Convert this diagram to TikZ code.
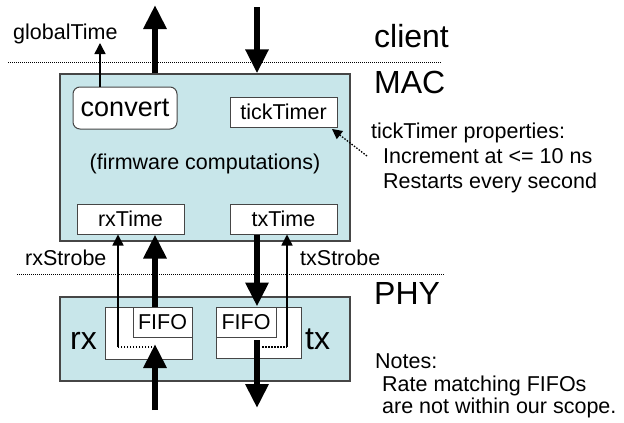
\documentclass[tikz,border=0pt]{standalone}
\usepackage{fontspec}
\setmainfont{Liberation Sans}
\usetikzlibrary{arrows.meta}
\definecolor{panelfill}{RGB}{200,230,234}
\definecolor{edge}{RGB}{70,70,70}
\begin{document}
\begin{tikzpicture}[x=1pt,y=-1pt,
  panel/.style={draw=edge, line width=1.3pt, fill=panelfill, inner sep=0pt},
  wbox/.style={draw=edge, line width=1pt, fill=white, inner sep=0pt, font=\fontsize{21.5}{25}\selectfont},
  bigtext/.style={font=\fontsize{32}{36}\selectfont, inner sep=0pt, anchor=base west},
  smalltext/.style={font=\fontsize{21.5}{25}\selectfont, inner sep=0pt, anchor=base west},
  fat/.style={line width=6pt, -{Triangle[length=24pt,width=22pt]}},
  thinarr/.style={line width=1.5pt, -{Triangle[length=11pt,width=11pt]}},
  sep/.style={line width=0.9pt, dash pattern=on 1pt off 1pt},
  dots/.style={line width=1.3pt, dash pattern=on 1.5pt off 1.5pt}
]
\useasboundingbox (0,0) rectangle (624,423);

% separators
\coordinate (s1a) at (8,62);  \coordinate (s1b) at (441,62);
\coordinate (s2a) at (17,274); \coordinate (s2b) at (444,274);
\draw[sep] (s1a) -- (s1b);
\draw[sep] (s2a) -- (s2b);

% panels
\node[panel, minimum width=290pt, minimum height=167pt] (mac) at (205,157.5) {};
\node[panel, minimum width=290pt, minimum height=84pt] (phy) at (205,339) {};

% MAC inner boxes
\node[wbox, rounded corners=7pt, minimum width=104pt, minimum height=42pt, font=\fontsize{27}{30}\selectfont] (convert) at (125,108) {convert};
\node[wbox, minimum width=107pt, minimum height=30pt] (tick) at (283.5,112) {tickTimer};
\node[wbox, minimum width=107pt, minimum height=30pt] (rxtime) at (130.5,219) {rxTime};
\node[wbox, minimum width=107pt, minimum height=30pt] (txtime) at (283.5,219) {txTime};
\node[font=\fontsize{21.5}{25}\selectfont, inner sep=0pt] (fw) at (205,164) {(firmware computations)};

% PHY inner boxes
\node[wbox, minimum width=87pt, minimum height=52pt] (rxouter) at (148.5,333) {};
\node[wbox, minimum width=59pt, minimum height=30pt] (rxfifo) at (162.5,322) {FIFO};
\node[wbox, minimum width=85pt, minimum height=51pt] (txouter) at (258.5,332.5) {};
\node[wbox, minimum width=60pt, minimum height=30pt] (txfifo) at (246,322) {FIFO};

% texts
\node[smalltext] (gt) at (13,39) {globalTime};
\node[bigtext] (client) at (374,47) {client};
\node[bigtext] (mactxt) at (374,93) {MAC};
\node[bigtext] (phytxt) at (374,304) {PHY};
\node[smalltext] (prop1) at (371,138) {tickTimer properties:};
\node[smalltext] (prop2) at (383,163) {Increment at <= 10 ns};
\node[smalltext] (prop3) at (383,188) {Restarts every second};
\node[smalltext] (rxs) at (25,265) {rxStrobe};
\node[smalltext] (txs) at (300,265) {txStrobe};
\node[bigtext] (rxt) at (70,349) {rx};
\node[bigtext] (txt) at (305,349) {tx};
\node[smalltext] (n1) at (375,368.5) {Notes:};
\node[smalltext] (n2) at (382,391) {Rate matching FIFOs};
\node[smalltext] (n3) at (382,413) {are not within our scope.};

% coordinates
\coordinate (gtip) at (100,43);
\coordinate (upx) at (155,5);
\coordinate (dnx) at (257,7);
\coordinate (rxin) at (155,410);
\coordinate (rxtip) at (155,344);
\coordinate (rxdot) at (152,347);
\coordinate (rxcorner) at (118,347);
\coordinate (txdot) at (262,347);
\coordinate (txcorner) at (287,347);
\coordinate (txoutstart) at (257,340);
\coordinate (txout) at (257,408);
\coordinate (propfrom) at (367,156);
\coordinate (proptip) at (332,129);

% arrows
\draw[thinarr] (convert.north -| gtip) -- (gtip);
\draw[fat] (mac.north -| upx) -- (upx);
\draw[fat] (dnx) -- (mac.north -| dnx);
\draw[fat] (rxfifo.north -| upx) -- (rxtime.south -| upx);
\draw[fat] (rxin) -- (rxtip);
\draw[fat] (txtime.south -| dnx) -- (txfifo.north -| dnx);
\draw[fat] (txoutstart) -- (txout);
\draw[dots] (rxdot) -- (rxcorner);
\draw[thinarr] (rxcorner) -- (rxtime.south -| rxcorner);
\draw[dots] (txdot) -- (txcorner);
\draw[thinarr] (txcorner) -- (txtime.south -| txcorner);
\draw[dots, -{Triangle[length=10pt,width=10pt]}] (propfrom) -- (proptip);
\end{tikzpicture}
\end{document}
